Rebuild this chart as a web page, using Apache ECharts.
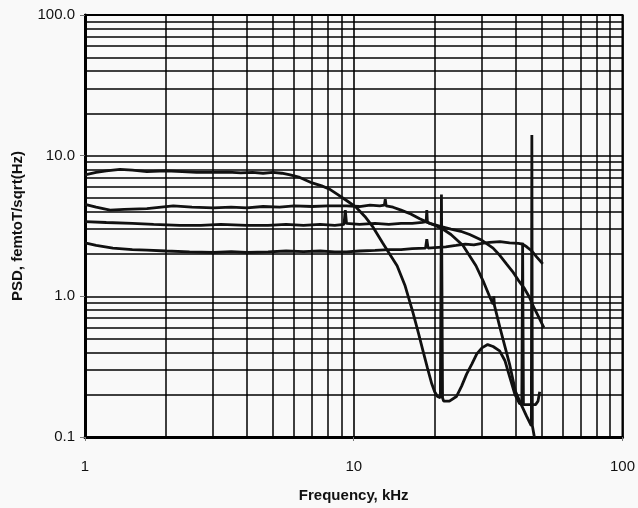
<!DOCTYPE html>
<html lang="en">
<head>
    <meta charset="UTF-8">
    <title>PSD vs Frequency</title>
    <script src="https://cdn.jsdelivr.net/npm/echarts@6/dist/echarts.min.js"></script>
    <style>
        html, body { margin: 0; padding: 0; background: #f9f9f9; }
        #chart { width: 638px; height: 508px; }
    </style>
</head>
<body>
<div id="chart"></div>
<script>
    // axis ranges and tick labels
    const xMin = 1, xMax = 100;
    const yMin = 0.1, yMax = 100;
    const xTickLabels = ['1', '10', '100'];
    const yTickLabels = ['0.1', '1.0', '10.0', '100.0'];

    // minor grid positions (1..9 in every decade)
    const xMinorGrid = [2, 3, 4, 5, 6, 7, 8, 9, 20, 30, 40, 50, 60, 70, 80, 90];
    const yMinorGrid = [0.2, 0.3, 0.4, 0.5, 0.6, 0.7, 0.8, 0.9, 2, 3, 4, 5, 6, 7, 8, 9, 20, 30, 40, 50, 60, 70, 80, 90];

    // curve A (highest at low frequency, deep notch)
    const freqA = [1, 1.1, 1.2, 1.35, 1.5, 1.7, 2.0, 2.3, 2.6, 3.0, 3.4, 3.8, 4.2, 4.6, 5.0, 5.4, 5.8, 6.3, 7.0, 7.6, 8.1, 8.7, 9.4, 10.2, 11.0, 11.8, 12.8, 13.6, 14.5, 15.5, 16.6, 17.4, 18.1, 18.8, 19.5, 20.0, 20.5, 21.0, 21.2, 21.4, 21.6, 22.7, 24.1, 25.2, 26.3, 27.5, 28.7, 30.0, 31.5, 33.0, 34.9, 36.5, 38.0, 39.8, 41.4, 42.2, 42.5, 42.8, 44, 46, 47.5, 48.5, 49.2];
    const psdA  = [7.3, 7.6, 7.8, 8.0, 7.9, 7.7, 7.8, 7.7, 7.6, 7.6, 7.65, 7.55, 7.6, 7.5, 7.6, 7.5, 7.3, 7.0, 6.4, 6.1, 5.8, 5.3, 4.8, 4.3, 3.7, 3.1, 2.4, 2.0, 1.65, 1.2, 0.77, 0.55, 0.41, 0.31, 0.24, 0.21, 0.194, 0.19, 5.3, 0.19, 0.18, 0.18, 0.194, 0.23, 0.28, 0.33, 0.39, 0.43, 0.454, 0.44, 0.41, 0.35, 0.27, 0.2, 0.173, 0.17, 2.4, 0.17, 0.17, 0.17, 0.17, 0.18, 0.21];

    // curve B (~4.3 plateau)
    const freqB = [1, 1.1, 1.24, 1.4, 1.7, 2.13, 2.5, 3.0, 3.5, 4.0, 4.6, 5.3, 6.0, 7.0, 8.0, 9.4, 10.5, 11.5, 12.5, 13.0, 13.1, 13.2, 14.0, 15.0, 16.3, 17.6, 19.2, 21, 23, 25, 27, 30, 33, 35, 37, 39, 41, 43, 45, 47, 49, 51];
    const psdB  = [4.5, 4.3, 4.1, 4.15, 4.2, 4.4, 4.3, 4.25, 4.3, 4.25, 4.35, 4.3, 4.4, 4.35, 4.4, 4.4, 4.35, 4.45, 4.4, 4.45, 4.9, 4.4, 4.3, 4.1, 3.85, 3.56, 3.3, 3.14, 3.0, 2.9, 2.75, 2.5, 2.2, 1.95, 1.7, 1.5, 1.3, 1.15, 0.99, 0.82, 0.7, 0.6];

    // curve C (~3.3 plateau)
    const freqC = [1, 1.2, 1.5, 1.8, 2.25, 2.7, 3.2, 4.0, 4.8, 5.6, 6.5, 7.5, 8.5, 9.2, 9.3, 9.4, 10.5, 12, 13.5, 15, 16.5, 18.0, 18.6, 18.7, 18.8, 20, 21.5, 23, 25.5, 28.5, 30.5, 32, 33.0, 33.2, 33.4, 35, 38, 40, 42, 44, 45.8, 46.0, 46.2, 47];
    const psdC  = [3.4, 3.35, 3.3, 3.25, 3.2, 3.2, 3.25, 3.2, 3.2, 3.25, 3.2, 3.25, 3.2, 3.25, 4.1, 3.3, 3.25, 3.3, 3.25, 3.3, 3.3, 3.35, 3.4, 4.1, 3.35, 3.2, 3.0, 2.75, 2.3, 1.65, 1.25, 1.0, 0.88, 1.0, 0.86, 0.6, 0.33, 0.21, 0.17, 0.14, 0.12, 14, 0.12, 0.1];

    // curve D (~2.2 plateau)
    const freqD = [1, 1.1, 1.27, 1.5, 1.7, 2.0, 2.45, 3.0, 3.5, 4.0, 4.8, 5.6, 6.5, 7.5, 8.5, 9.4, 10.5, 12, 13.5, 15, 16.5, 18.5, 18.7, 18.9, 20, 22, 24, 26, 28, 30, 32, 35, 38, 41, 42.5, 44, 46, 48, 50.5];
    const psdD  = [2.4, 2.3, 2.2, 2.15, 2.13, 2.1, 2.07, 2.05, 2.08, 2.05, 2.07, 2.1, 2.08, 2.1, 2.07, 2.07, 2.1, 2.12, 2.15, 2.15, 2.18, 2.2, 2.55, 2.2, 2.22, 2.25, 2.3, 2.35, 2.32, 2.38, 2.42, 2.45, 2.4, 2.38, 2.35, 2.25, 2.1, 1.9, 1.7];

    function pairs(f, v) {
        return f.map((x, i) => [x, v[i]]);
    }

    function curve(name, f, v) {
        return {
            name: name,
            type: 'line',
            data: pairs(f, v),
            showSymbol: false,
            smooth: false,
            silent: true,
            lineStyle: { color: '#111', width: 2.8 },
            z: 5
        };
    }

    var myChart = echarts.init(document.getElementById('chart'));

    var gridLines = xMinorGrid.map(x => ({ xAxis: x }))
        .concat(yMinorGrid.map(y => ({ yAxis: y })));

    var option = {
        backgroundColor: '#f9f9f9',
        animation: false,
        grid: {
            left: 85, top: 15, right: 15, bottom: 64,
            show: true, borderColor: '#000', borderWidth: 2
        },
        xAxis: {
            type: 'log', logBase: 10, min: xMin, max: xMax,
            name: 'Frequency, kHz',
            nameLocation: 'middle', nameGap: 51,
            nameTextStyle: { fontFamily: 'Liberation Sans', fontWeight: 'bold', fontSize: 15, color: '#111' },
            axisLine: { lineStyle: { color: '#000', width: 3 } },
            axisTick: { show: true, length: 4, lineStyle: { color: '#777' } },
            axisLabel: {
                fontFamily: 'Liberation Sans', fontSize: 15, color: '#111', margin: 22,
                formatter: function (v) {
                    var i = Math.round(Math.log10(v));
                    return xTickLabels[i] || '';
                }
            },
            splitLine: { show: true, lineStyle: { color: '#000', width: 1.6 } },
            minorTick: { show: false }
        },
        yAxis: {
            type: 'log', logBase: 10, min: yMin, max: yMax,
            name: 'PSD, femtoT/sqrt(Hz)',
            nameLocation: 'middle', nameGap: 60,
            nameTextStyle: { fontFamily: 'Liberation Sans', fontWeight: 'bold', fontSize: 15, color: '#111' },
            axisLine: { lineStyle: { color: '#000', width: 3 } },
            axisTick: { show: true, length: 5, lineStyle: { color: '#777' } },
            axisLabel: {
                fontFamily: 'Liberation Sans', fontSize: 15, color: '#111', margin: 10,
                formatter: function (v) {
                    var i = Math.round(Math.log10(v)) + 1;
                    return yTickLabels[i] || '';
                }
            },
            splitLine: { show: true, lineStyle: { color: '#000', width: 1.6 } }
        },
        series: [
            {
                type: 'line',
                data: [],
                silent: true,
                markLine: {
                    silent: true,
                    symbol: 'none',
                    label: { show: false },
                    animation: false,
                    lineStyle: { color: '#000', width: 1.5, type: 'solid' },
                    data: gridLines
                },
                z: 1
            },
            curve('A', freqA, psdA),
            curve('B', freqB, psdB),
            curve('C', freqC, psdC),
            curve('D', freqD, psdD)
        ]
    };

    myChart.setOption(option);
</script>
</body>
</html>
